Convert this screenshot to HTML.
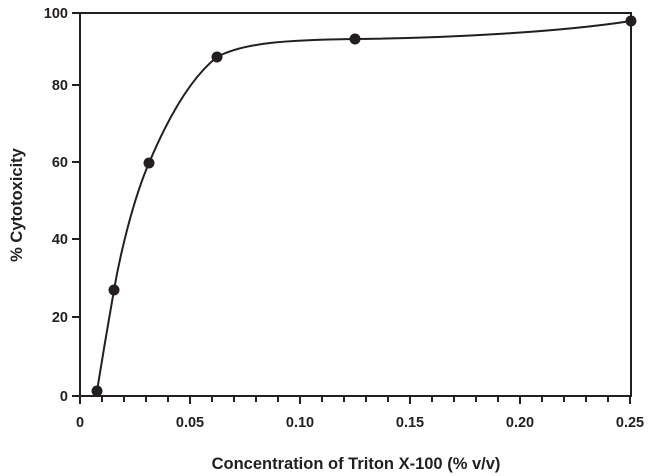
<!DOCTYPE html>
<html><head><style>body{margin:0;background:#fff}svg{display:block}</style></head><body>
<svg width="650" height="476" xmlns="http://www.w3.org/2000/svg" font-family="Liberation Sans, sans-serif" font-weight="bold" fill="#231f20">
<g stroke="#231f20" stroke-width="2" fill="none">
<path d="M80,13 H631 V396 H80 Z"/>
<path d="M72,13H80M72,85H80M72,162H80M72,239H80M72,317H80M72,396H80"/>
<path d="M80,396v8M102,396v6M124,396v6M146,396v6M168,396v6M190,396v8M212,396v6M234,396v6M256,396v6M278,396v6M300,396v8M322,396v6M344,396v6M366,396v6M388,396v6M410,396v8M432,396v6M454,396v6M476,396v6M498,396v6M520,396v8M542,396v6M564,396v6M586,396v6M608,396v6M630,396v8"/>
<path d="M97,391 C102,360 109,318 114,290 C120,255 133,200 149,163 C165,125 188,80 217,57 C245,42 290,40 355,39 C450,38 560,32 631,21" stroke-width="2"/>
</g>
<g fill="#231f20">
<circle cx="97" cy="391" r="5.5"/><circle cx="114" cy="290" r="5.5"/><circle cx="149" cy="163" r="5.5"/><circle cx="217" cy="57" r="5.5"/><circle cx="355" cy="39" r="5.5"/><circle cx="631" cy="21" r="5.5"/>
</g>
<g font-size="14.5" text-anchor="end">
<text x="68" y="18">100</text><text x="68" y="90">80</text><text x="68" y="167">60</text><text x="68" y="244">40</text><text x="68" y="322">20</text><text x="68" y="401">0</text>
</g>
<g font-size="14.5" text-anchor="middle">
<text x="80" y="427">0</text><text x="190" y="427">0.05</text><text x="300" y="427">0.10</text><text x="410" y="427">0.15</text><text x="520" y="427">0.20</text><text x="630" y="427">0.25</text>
</g>
<text x="356" y="469" font-size="16.5" text-anchor="middle">Concentration of Triton X-100 (% v/v)</text>
<text transform="translate(22,205) rotate(-90)" font-size="16.5" text-anchor="middle">% Cytotoxicity</text>
</svg>
</body></html>
